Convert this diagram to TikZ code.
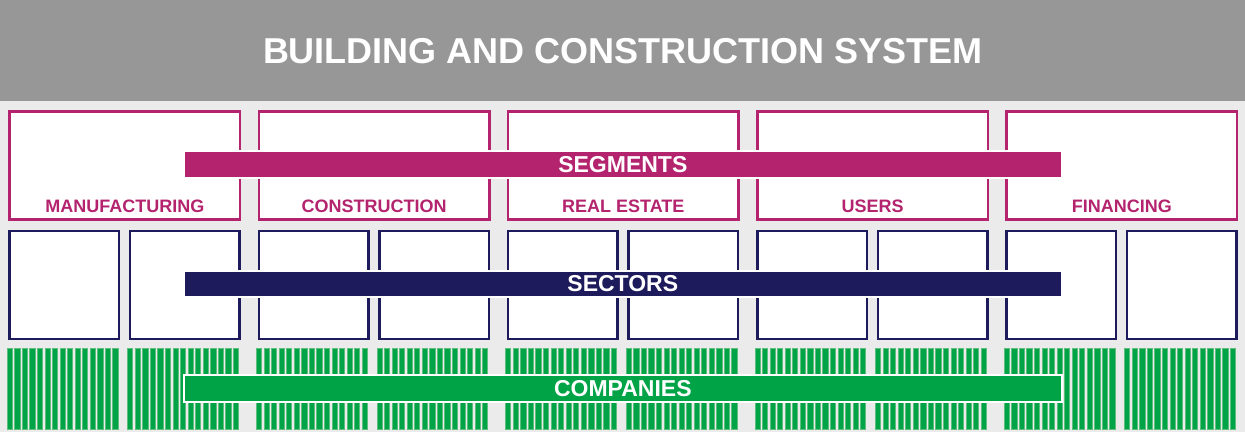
\documentclass[tikz,border=0pt]{standalone}
\usepackage{fontspec}
\setmainfont{Liberation Sans}
\definecolor{topgray}{HTML}{979797}
\definecolor{bggray}{HTML}{EBEBEB}
\definecolor{segcol}{HTML}{B4246E}
\definecolor{seccol}{HTML}{1E1B5C}
\definecolor{comcol}{HTML}{00A346}
\definecolor{comedge}{HTML}{5DBE7D}
\tikzset{
  segbox/.style={draw=segcol, line width=2.5pt, fill=white, minimum width=230.5pt, minimum height=108pt, inner sep=0pt},
  secbox/.style={draw=seccol, line width=2.5pt, fill=white, minimum width=109.5pt, minimum height=108pt, inner sep=0pt},
  seglabel/.style={text=segcol, font=\bfseries\fontsize{18}{18}\selectfont, anchor=base},
  bar/.style={draw=white, line width=2pt, minimum width=878.3pt, minimum height=26.7pt, inner sep=0pt, text=white, font=\bfseries\fontsize{23}{23}\selectfont}
}
\begin{document}
\begin{tikzpicture}[x=1pt,y=-1pt]
\useasboundingbox (0,0) rectangle (1245,432);
\fill[bggray] (0,0) rectangle (1245,432);
\fill[topgray] (0,0) rectangle (1245,101);
\node[text=white, font=\bfseries\fontsize{36}{36}\selectfont, anchor=base] (title) at (623,63.5) {BUILDING AND CONSTRUCTION SYSTEM};
% segments
\foreach \i/\name in {0/MANUFACTURING,1/CONSTRUCTION,2/REAL ESTATE,3/USERS,4/FINANCING}{
  \node[segbox] (seg\i) at (124.8+249.25*\i,165.4) {};
  \node[seglabel] (seglab\i) at ([yshift=8pt]seg\i.south) {\name};
}
% sectors
\foreach \i in {0,...,4}{
  \node[secbox] (secA\i) at (64.3+249.25*\i,285) {};
  \node[secbox] (secB\i) at (184.8+249.25*\i,285) {};
}
% companies
\foreach \i in {0,...,4}{
  \foreach \x in {0,120.5}{
    \foreach \k in {0,...,14}{
      \filldraw[fill=comcol, draw=comedge, line width=0.5pt]
        (7+249.25*\i+\x+7.55*\k,348) rectangle ++(5.2,81.3);
    }
  }
}
\node[bar, fill=segcol] (segments) at (622.8,164.4) {SEGMENTS};
\node[bar, fill=seccol] (sectors) at (622.8,284) {SECTORS};
\node[bar, fill=comcol] (companies) at (622.8,388.3) {COMPANIES};
\end{tikzpicture}
\end{document}
